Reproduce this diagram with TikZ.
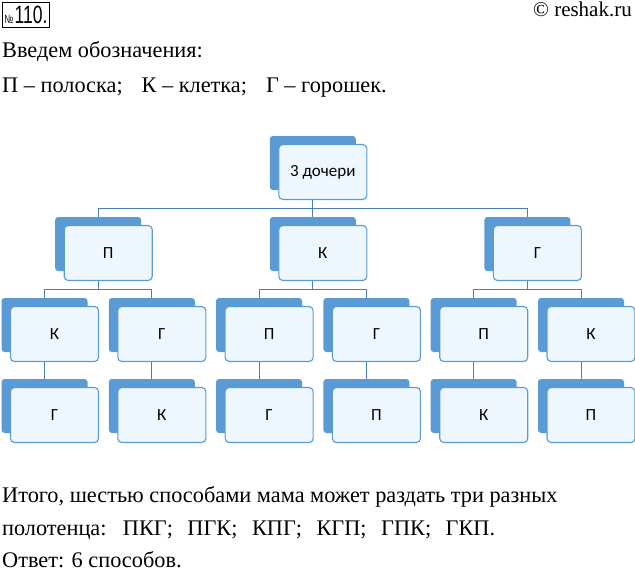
\documentclass[tikz,border=0pt]{standalone}
\usepackage{fontspec}
\setmainfont{Liberation Serif}
\newfontfamily\boxfont{Carlito}
\newfontfamily\numfont{Liberation Sans}
\definecolor{backblue}{HTML}{5B9BD5}
\definecolor{frontfill}{HTML}{EEF6FE}
\definecolor{frontline}{HTML}{5B9BD5}
\definecolor{linkblue}{HTML}{4A7EBB}
\pgfdeclarelayer{bg}
\pgfsetlayers{bg,main}
\tikzset{
 backbox/.style={draw=none, fill=backblue, rounded corners=3pt, minimum width=86pt, minimum height=54pt, inner sep=0pt},
 frontbox/.style={draw=frontline, line width=1.1pt, fill=frontfill, rounded corners=4pt, minimum width=88pt, minimum height=55pt, inner sep=0pt, font=\boxfont\fontsize{17}{17}\selectfont},
 link/.style={draw=linkblue, line width=1pt},
 para/.style={anchor=base west, inner sep=0pt, font=\fontsize{22.3}{22.3}\selectfont}
}
\newcommand\famnode[4]{%
 \node[backbox] (#1b) at (#2,#3) {};
 \node[frontbox] (#1f) at (#2+10,#3+9) {#4};
}
\begin{document}
\begin{tikzpicture}[x=1pt,y=-1pt]
\useasboundingbox (0,0) rectangle (635,571);
% header
\node[draw, line width=1pt, anchor=north west, inner xsep=2pt, inner ysep=1.5pt, minimum width=45pt, minimum height=25pt] (num) at (2,2)
 {\numfont\scalebox{0.7}[1]{{\fontsize{12}{12}\selectfont №}\,{\fontsize{25}{25}\selectfont 110.}}};
\node[anchor=north east, inner sep=0pt, font=\fontsize{21}{21}\selectfont] (copy) at (632,2) {© reshak.ru};
\node[para] (l1) at (2,57) {Введем обозначения:};
\node[para] (l2) at (2,92) {П – полоска;\hspace{0.6em} К – клетка;\hspace{0.6em} Г – горошек.};
% tree
\famnode{T}{312.8}{163}{3 дочери}
\famnode{A}{98.2}{244}{П}
\famnode{B}{312.8}{244}{К}
\famnode{C}{527.4}{244}{Г}
\famnode{AA}{44.5}{325}{К}
\famnode{AB}{151.8}{325}{Г}
\famnode{BA}{259.1}{325}{П}
\famnode{BB}{366.4}{325}{Г}
\famnode{CA}{473.7}{325}{П}
\famnode{CB}{581}{325}{К}
\famnode{AAA}{44.5}{406}{Г}
\famnode{ABA}{151.8}{406}{К}
\famnode{BAA}{259.1}{406}{Г}
\famnode{BBA}{366.4}{406}{П}
\famnode{CAA}{473.7}{406}{К}
\famnode{CBA}{581}{406}{П}
\begin{pgfonlayer}{bg}
 \draw[link] (Tb |- Tf.south) -- ++(0,8) coordinate (busT);
 \draw[link] (busT) -| (Ab.north);
 \draw[link] (busT) -| (Bb.north);
 \draw[link] (busT) -| (Cb.north);
 \foreach \p/\c/\d in {A/AA/AB, B/BA/BB, C/CA/CB}{
  \draw[link] (\p b |- \p f.south) -- ++(0,8) coordinate (bus\p);
  \draw[link] (bus\p) -| (\c b.north);
  \draw[link] (bus\p) -| (\d b.north);
 }
 \foreach \p/\c in {AA/AAA, AB/ABA, BA/BAA, BB/BBA, CA/CAA, CB/CBA}{
  \draw[link] (\p b |- \p f.south) -- (\c b.north);
 }
\end{pgfonlayer}
% footer
\node[para] (l3) at (2,502) {Итого, шестью способами мама может раздать три разных};
\node[para] (l4) at (2,535) {полотенца:\hspace{0.4em} ПКГ;\hspace{0.4em} ПГК;\hspace{0.4em} КПГ;\hspace{0.4em} КГП;\hspace{0.4em} ГПК;\hspace{0.4em} ГКП.};
\node[para] (l5) at (2,567) {Ответ: 6 способов.};
\end{tikzpicture}
\end{document}
